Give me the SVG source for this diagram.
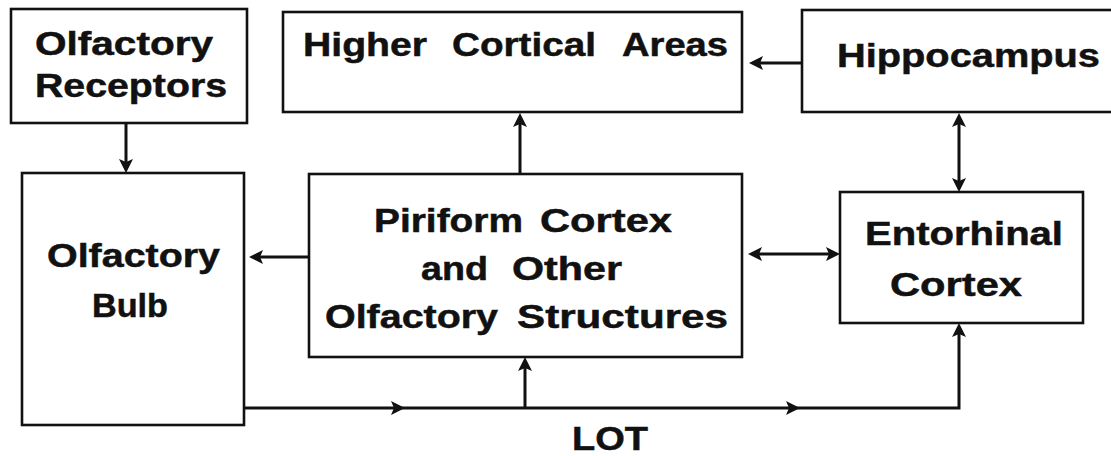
<svg xmlns="http://www.w3.org/2000/svg" width="1111" height="456" viewBox="0 0 1111 456">
  <style>
    .box { fill: #ffffff; stroke: #111111; stroke-width: 2.6; }
    .lbl { font-family: "Liberation Sans", Arial, Helvetica, sans-serif; font-weight: bold; font-size: 33px; fill: #111111; stroke: #111111; stroke-width: 0.5; }
    .wire { fill: none; stroke: #111111; stroke-width: 3; }
    .head { fill: #111111; stroke: none; }
  </style>
  <defs>
    <marker id="arrow" viewBox="0 0 14 14" refX="8" refY="7" markerWidth="14" markerHeight="14" markerUnits="userSpaceOnUse" orient="auto-start-reverse">
      <path d="M0,0 L14,7 L0,14 L3,7 z" fill="#111111"/>
    </marker>
  </defs>
  <rect width="1111" height="456" fill="#ffffff"/>

  <!-- each word is set to its own width so the wide, extended lettering lines up -->
  <g id="olfactory-receptors">
    <rect class="box" x="11" y="9" width="236" height="114"/>
    <text class="lbl" x="35" y="55" textLength="178" lengthAdjust="spacingAndGlyphs">Olfactory</text>
    <text class="lbl" x="35" y="97" textLength="192" lengthAdjust="spacingAndGlyphs">Receptors</text>
  </g>

  <g id="olfactory-bulb">
    <rect class="box" x="22" y="173" width="222" height="252"/>
    <text class="lbl" x="47" y="267" textLength="173" lengthAdjust="spacingAndGlyphs">Olfactory</text>
    <text class="lbl" x="92" y="317" textLength="76" lengthAdjust="spacingAndGlyphs">Bulb</text>
  </g>

  <g id="higher-cortical-areas">
    <rect class="box" x="283" y="12" width="459" height="100"/>
    <text class="lbl" x="303" y="56" textLength="124" lengthAdjust="spacingAndGlyphs">Higher</text>
    <text class="lbl" x="452" y="56" textLength="144" lengthAdjust="spacingAndGlyphs">Cortical</text>
    <text class="lbl" x="622" y="56" textLength="106" lengthAdjust="spacingAndGlyphs">Areas</text>
  </g>

  <g id="hippocampus">
    <rect class="box" x="802" y="10" width="320" height="102"/>
    <text class="lbl" x="837" y="67" textLength="263" lengthAdjust="spacingAndGlyphs">Hippocampus</text>
  </g>

  <g id="piriform-cortex">
    <rect class="box" x="309" y="174" width="433" height="183"/>
    <text class="lbl" x="374" y="232" textLength="149" lengthAdjust="spacingAndGlyphs">Piriform</text>
    <text class="lbl" x="540" y="232" textLength="132" lengthAdjust="spacingAndGlyphs">Cortex</text>
    <text class="lbl" x="421" y="280" textLength="67" lengthAdjust="spacingAndGlyphs">and</text>
    <text class="lbl" x="512" y="280" textLength="110" lengthAdjust="spacingAndGlyphs">Other</text>
    <text class="lbl" x="325" y="328" textLength="173" lengthAdjust="spacingAndGlyphs">Olfactory</text>
    <text class="lbl" x="517" y="328" textLength="211" lengthAdjust="spacingAndGlyphs">Structures</text>
  </g>

  <g id="entorhinal-cortex">
    <rect class="box" x="840" y="192" width="243" height="131"/>
    <text class="lbl" x="865" y="245" textLength="198" lengthAdjust="spacingAndGlyphs">Entorhinal</text>
    <text class="lbl" x="890" y="296" textLength="132" lengthAdjust="spacingAndGlyphs">Cortex</text>
  </g>

  <g id="connectors">
    <!-- receptors to bulb -->
    <line class="wire" x1="126" y1="123" x2="126" y2="167" marker-end="url(#arrow)"/>
    <!-- piriform back to bulb -->
    <line class="wire" x1="309" y1="257" x2="255" y2="257" marker-end="url(#arrow)"/>
    <!-- piriform up to higher cortical areas -->
    <line class="wire" x1="520" y1="174" x2="520" y2="119" marker-end="url(#arrow)"/>
    <!-- hippocampus to higher cortical areas -->
    <line class="wire" x1="802" y1="63" x2="755" y2="63" marker-end="url(#arrow)"/>
    <!-- hippocampus and entorhinal, both ways -->
    <line class="wire" x1="959" y1="119" x2="959" y2="186" marker-start="url(#arrow)" marker-end="url(#arrow)"/>
    <!-- piriform and entorhinal, both ways -->
    <line class="wire" x1="754" y1="254" x2="834" y2="254" marker-start="url(#arrow)" marker-end="url(#arrow)"/>
    <!-- lateral olfactory tract -->
    <path class="wire" d="M244,408 H959 V329" marker-end="url(#arrow)"/>
    <line class="wire" x1="525" y1="408" x2="525" y2="363" marker-end="url(#arrow)"/>
    <path class="head" d="M405,408 L391,401 L394,408 L391,415 z"/>
    <path class="head" d="M800,408 L786,401 L789,408 L786,415 z"/>
  </g>

  <text id="lot-label" class="lbl" x="572" y="450" textLength="76" lengthAdjust="spacingAndGlyphs">LOT</text>
</svg>
